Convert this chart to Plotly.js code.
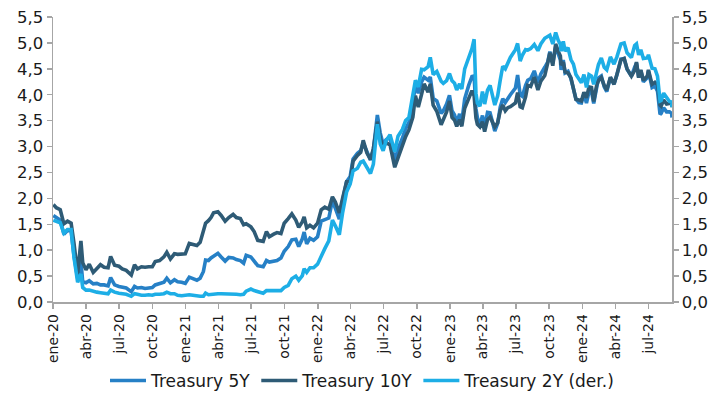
<!DOCTYPE html>
<html>
<head>
<meta charset="utf-8">
<script src="https://cdn.plot.ly/plotly-3.0.1.min.js"></script>
<style>
  html, body { margin: 0; padding: 0; background: #ffffff; }
  #chart { width: 718px; height: 398px; }
</style>
</head>
<body>
<div id="chart"></div>
<script>
// Rentabilidad de los bonos del Tesoro de EE.UU. (%), 2020-2024
const fechas = [
  // 2020
  '2020-01-02','2020-01-10','2020-01-21','2020-01-31','2020-02-10','2020-02-20','2020-02-28',
  '2020-03-09','2020-03-18','2020-03-23','2020-04-01','2020-04-10','2020-04-21','2020-05-01',
  '2020-05-11','2020-05-21','2020-06-01','2020-06-08','2020-06-19','2020-07-01','2020-07-10',
  '2020-07-21','2020-08-04','2020-08-13','2020-08-21','2020-09-01','2020-09-11','2020-09-21',
  '2020-10-01','2020-10-09','2020-10-21','2020-11-02','2020-11-10','2020-11-20','2020-12-01',
  '2020-12-10','2020-12-21','2020-12-31',
  // 2021
  '2021-01-11','2021-01-21','2021-02-01','2021-02-10','2021-02-19','2021-02-25','2021-03-05',
  '2021-03-12','2021-03-19','2021-03-31','2021-04-09','2021-04-20','2021-04-30','2021-05-12',
  '2021-05-21','2021-06-01','2021-06-10','2021-06-17','2021-06-30','2021-07-09','2021-07-19',
  '2021-08-03','2021-08-12','2021-08-20','2021-09-01','2021-09-10','2021-09-21','2021-09-30',
  '2021-10-11','2021-10-21','2021-11-01','2021-11-09','2021-11-19','2021-11-24','2021-12-01',
  '2021-12-10','2021-12-20','2021-12-31',
  // 2022
  '2022-01-10','2022-01-20','2022-01-31','2022-02-10','2022-02-18','2022-03-01','2022-03-10',
  '2022-03-21','2022-03-31','2022-04-08','2022-04-20','2022-04-29','2022-05-06','2022-05-16',
  '2022-05-26','2022-06-03','2022-06-14','2022-06-22','2022-06-30','2022-07-08','2022-07-19',
  '2022-08-01','2022-08-10','2022-08-22','2022-08-31','2022-09-09','2022-09-20','2022-09-27',
  '2022-10-05','2022-10-14','2022-10-21','2022-11-01','2022-11-07','2022-11-15','2022-11-25',
  '2022-12-07','2022-12-13','2022-12-22','2022-12-30',
  // 2023
  '2023-01-06','2023-01-13','2023-01-19','2023-01-27','2023-02-02','2023-02-10','2023-02-21',
  '2023-03-02','2023-03-08','2023-03-13','2023-03-17','2023-03-24','2023-03-31','2023-04-06',
  '2023-04-14','2023-04-21','2023-05-04','2023-05-12','2023-05-19','2023-05-26','2023-06-02',
  '2023-06-09','2023-06-16','2023-06-30','2023-07-06','2023-07-13','2023-07-19','2023-07-28',
  '2023-08-03','2023-08-11','2023-08-21','2023-08-31','2023-09-08','2023-09-19','2023-09-27',
  '2023-10-03','2023-10-11','2023-10-19','2023-10-26','2023-11-01','2023-11-03','2023-11-09',
  '2023-11-14','2023-11-22','2023-11-30','2023-12-07','2023-12-14','2023-12-22','2023-12-29',
  // 2024
  '2024-01-05','2024-01-12','2024-01-19','2024-01-26','2024-02-01','2024-02-09','2024-02-14',
  '2024-02-22','2024-03-01','2024-03-08','2024-03-18','2024-03-28','2024-04-05','2024-04-16',
  '2024-04-25','2024-05-03','2024-05-15','2024-05-24','2024-05-29','2024-06-04','2024-06-10',
  '2024-06-17','2024-06-28','2024-07-01','2024-07-11','2024-07-19','2024-07-26','2024-08-02',
  '2024-08-05','2024-08-12','2024-08-20','2024-08-28','2024-09-03','2024-09-04'
];

const treasury10y = [
  // 2020
  1.88,1.82,1.78,1.51,1.56,1.52,1.13,
  0.54,1.18,0.76,0.62,0.73,0.57,0.64,
  0.72,0.67,0.66,0.88,0.71,0.69,0.64,
  0.61,0.52,0.72,0.64,0.68,0.67,0.68,
  0.68,0.78,0.80,0.87,0.96,0.83,0.93,
  0.92,0.93,0.93,
  // 2021
  1.13,1.11,1.09,1.15,1.34,1.52,1.57,
  1.63,1.72,1.74,1.67,1.56,1.63,1.69,
  1.63,1.61,1.49,1.51,1.45,1.36,1.19,
  1.17,1.36,1.26,1.31,1.34,1.32,1.52,
  1.61,1.70,1.58,1.44,1.55,1.64,1.43,
  1.48,1.43,1.52,
  // 2022
  1.78,1.83,1.79,2.03,1.93,1.72,2.00,
  2.32,2.32,2.72,2.83,2.89,3.12,2.88,
  2.75,2.96,3.48,3.16,2.98,3.08,3.03,
  2.60,2.78,3.02,3.19,3.32,3.57,3.98,
  3.76,4.01,4.21,4.05,4.21,3.80,3.68,
  3.42,3.51,3.67,3.88,
  // 2023
  3.56,3.51,3.39,3.52,3.39,3.74,3.95,
  4.08,3.98,3.55,3.43,3.38,3.48,3.29,
  3.52,3.57,3.38,3.46,3.69,3.80,3.69,
  3.75,3.77,3.84,4.04,3.77,3.75,3.96,
  4.18,4.16,4.34,4.09,4.26,4.37,4.61,
  4.81,4.56,4.98,4.84,4.75,4.57,4.63,
  4.44,4.42,4.33,4.14,3.91,3.90,3.88,
  // 2024
  4.05,3.94,4.15,4.14,3.87,4.18,4.27,
  4.33,4.18,4.09,4.34,4.20,4.39,4.67,
  4.70,4.50,4.36,4.47,4.63,4.33,4.48,
  4.28,4.36,4.48,4.20,4.24,4.20,3.80,
  3.78,3.90,3.82,3.84,3.84,3.76
];

const treasury5y = [
  // 2020
  1.67,1.63,1.58,1.31,1.38,1.37,0.89,
  0.46,0.79,0.39,0.37,0.41,0.35,0.36,
  0.33,0.33,0.31,0.47,0.33,0.30,0.28,
  0.27,0.20,0.30,0.27,0.28,0.26,0.27,
  0.28,0.33,0.36,0.38,0.46,0.37,0.43,
  0.39,0.38,0.36,
  // 2021
  0.48,0.45,0.42,0.46,0.59,0.81,0.80,
  0.85,0.89,0.94,0.87,0.79,0.86,0.85,
  0.82,0.80,0.75,0.90,0.87,0.79,0.70,
  0.68,0.80,0.77,0.79,0.80,0.85,0.98,
  1.07,1.20,1.21,1.07,1.22,1.35,1.12,
  1.23,1.19,1.26,
  // 2022
  1.56,1.59,1.62,1.96,1.82,1.60,1.95,
  2.32,2.42,2.76,2.87,2.92,3.07,2.89,
  2.74,2.94,3.61,3.26,3.04,3.13,3.18,
  2.70,2.96,3.16,3.35,3.46,3.83,4.21,
  4.03,4.25,4.34,4.28,4.34,3.93,3.88,
  3.64,3.69,3.82,3.99,
  // 2023
  3.69,3.61,3.46,3.63,3.48,3.92,4.18,
  4.35,4.36,3.73,3.56,3.40,3.60,3.37,
  3.66,3.65,3.30,3.45,3.76,3.92,3.85,
  3.93,4.00,4.13,4.38,4.00,3.97,4.18,
  4.28,4.31,4.46,4.23,4.40,4.53,4.63,
  4.83,4.61,4.93,4.77,4.67,4.48,4.67,
  4.42,4.45,4.31,4.12,3.92,3.85,3.84,
  // 2024
  4.01,3.84,4.06,4.06,3.83,4.14,4.32,
  4.36,4.15,4.06,4.33,4.21,4.38,4.69,
  4.70,4.49,4.36,4.53,4.61,4.34,4.47,
  4.25,4.33,4.46,4.14,4.17,4.07,3.62,
  3.64,3.75,3.67,3.67,3.64,3.56
];

const treasury2y = [
  // 2020
  1.58,1.56,1.53,1.33,1.40,1.40,0.86,
  0.38,0.54,0.28,0.23,0.23,0.20,0.19,
  0.18,0.17,0.16,0.23,0.19,0.17,0.16,
  0.15,0.11,0.16,0.15,0.13,0.13,0.14,
  0.13,0.15,0.15,0.16,0.19,0.16,0.16,
  0.13,0.12,0.13,
  // 2021
  0.14,0.13,0.11,0.11,0.11,0.17,0.14,
  0.15,0.15,0.16,0.16,0.16,0.16,0.16,
  0.15,0.14,0.15,0.21,0.25,0.22,0.20,
  0.17,0.22,0.22,0.21,0.21,0.22,0.28,
  0.32,0.45,0.50,0.42,0.51,0.64,0.57,
  0.66,0.66,0.73,
  // 2022
  0.90,1.03,1.18,1.58,1.47,1.30,1.72,
  2.12,2.28,2.53,2.58,2.70,2.72,2.61,
  2.48,2.66,3.43,3.05,2.92,3.11,3.23,
  2.90,3.20,3.33,3.50,3.56,3.96,4.28,
  4.15,4.49,4.48,4.54,4.72,4.39,4.45,
  4.26,4.22,4.27,4.41,
  // 2023
  4.27,4.22,4.09,4.21,4.11,4.50,4.72,
  4.89,5.07,4.03,3.84,3.78,4.06,3.82,
  4.09,4.18,3.80,3.98,4.28,4.55,4.50,
  4.61,4.72,4.87,4.99,4.65,4.76,4.87,
  4.86,4.89,4.97,4.85,4.98,5.09,5.13,
  5.15,4.98,5.20,5.05,4.97,4.84,5.03,
  4.84,4.91,4.68,4.59,4.39,4.31,4.23,
  // 2024
  4.39,4.14,4.39,4.36,4.20,4.48,4.58,
  4.71,4.53,4.48,4.73,4.59,4.73,4.98,
  5.00,4.81,4.72,4.95,4.98,4.77,4.87,
  4.70,4.71,4.77,4.51,4.50,4.36,3.88,
  3.89,4.03,3.96,3.87,3.86,3.76
];

// Marcas trimestrales del eje de fechas
const ticksFecha = [
  '2020-01-01','2020-04-01','2020-07-01','2020-10-01',
  '2021-01-01','2021-04-01','2021-07-01','2021-10-01',
  '2022-01-01','2022-04-01','2022-07-01','2022-10-01',
  '2023-01-01','2023-04-01','2023-07-01','2023-10-01',
  '2024-01-01','2024-04-01','2024-07-01'
];
const etiquetasFecha = [
  'ene-20','abr-20','jul-20','oct-20',
  'ene-21','abr-21','jul-21','oct-21',
  'ene-22','abr-22','jul-22','oct-22',
  'ene-23','abr-23','jul-23','oct-23',
  'ene-24','abr-24','jul-24'
];

const nombres = ['Treasury 5Y', 'Treasury 10Y', 'Treasury 2Y (der.)'];
const colores = ['#2680C6', '#2E5B76', '#1DAEE6'];

const fuente = 'DejaVu Sans, Verdana, sans-serif';
const gris = '#A6A6A6';

const traces = [
  { x: fechas, y: treasury5y, name: nombres[0], type: 'scatter', mode: 'lines',
    line: { color: colores[0], width: 3.6 }, yaxis: 'y' },
  { x: fechas, y: treasury10y, name: nombres[1], type: 'scatter', mode: 'lines',
    line: { color: colores[1], width: 3.6 }, yaxis: 'y' },
  { x: fechas, y: treasury2y, name: nombres[2], type: 'scatter', mode: 'lines',
    line: { color: colores[2], width: 3.6 }, yaxis: 'y2' }
];

const ejeY = {
  range: [0, 5.5], dtick: 0.5, tick0: 0, tickformat: '.1f',
  showgrid: false, zeroline: false,
  showline: true, linecolor: gris, linewidth: 1.5,
  ticks: 'outside', ticklen: 5, tickcolor: gris, tickwidth: 1.5,
  tickfont: { family: fuente, size: 16.5, color: '#1a1a1a' },
  fixedrange: true
};

const layout = {
  width: 718, height: 398,
  margin: { l: 53, r: 46, t: 17, b: 96 },
  paper_bgcolor: '#ffffff', plot_bgcolor: '#ffffff',
  separators: ',.',
  showlegend: true,
  xaxis: {
    type: 'date', range: ['2020-01-01', '2024-09-04'],
    tickmode: 'array', tickvals: ticksFecha, ticktext: etiquetasFecha,
    tickangle: -90,
    showgrid: false, zeroline: false,
    showline: true, linecolor: gris, linewidth: 1.5,
    ticks: 'outside', ticklen: 5, tickcolor: gris, tickwidth: 1.5,
    tickfont: { family: fuente, size: 14, color: '#1a1a1a' }
  },
  yaxis: Object.assign({}, ejeY),
  yaxis2: Object.assign({}, ejeY, { overlaying: 'y', side: 'right' }),
  legend: {
    orientation: 'h', x: 0.5, xanchor: 'center',
    yref: 'container', y: 0.043, yanchor: 'middle',
    font: { family: fuente, size: 17, color: '#1a1a1a' },
    traceorder: 'normal', itemwidth: 36
  }
};

Plotly.newPlot('chart', traces, layout, { displayModeBar: false, staticPlot: true });
</script>
</body>
</html>
